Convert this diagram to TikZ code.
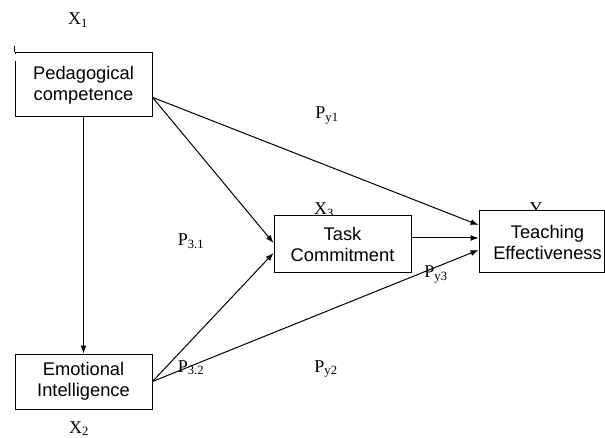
\documentclass[tikz,border=0pt]{standalone}
\usepackage{fontspec}
\setmainfont{Liberation Serif}
\newfontfamily\boxfont{Liberation Sans}
\usetikzlibrary{calc, arrows.meta}

\begin{document}
\begin{tikzpicture}[x=1pt, y=-1pt,
    box/.style={draw, fill=white, line width=1pt, align=center, inner sep=0pt,
      font=\boxfont\fontsize{18.3}{21}\selectfont},
    lbl/.style={anchor=base, inner sep=0pt, font=\fontsize{18}{21}\selectfont},
    arr/.style={line width=1pt, -{Latex[length=8pt,width=6pt]}}]
  \useasboundingbox (0,0) rectangle (605,438);
  % labels
  \node[lbl] (lX1) at (78,25) {X\textsubscript{1}};
  \node[lbl] (lX2) at (79,433) {X\textsubscript{2}};
  \node[lbl] (lX3) at (324,215) {X\textsubscript{3}};
  \node[lbl] (lY) at (536,215) {Y};
  \node[lbl] (lPy1) at (327,119) {P\textsubscript{y1}};
  \node[lbl] (lP31) at (191,246) {P\textsubscript{3.1}};
  \node[lbl] (lPy3) at (436,278) {P\textsubscript{y3}};
  \node[lbl] (lP32) at (191,372) {P\textsubscript{3.2}};
  \node[lbl] (lPy2) at (326,372) {P\textsubscript{y2}};
  % variables
  \node[box, minimum width=137pt, minimum height=64pt] (PC) at (83.5,85) {Pedagogical\\competence};
  \node[box, minimum width=137pt, minimum height=55pt] (EI) at (83.5,381.5) {Emotional\\Intelligence};
  \node[box, minimum width=137pt, minimum height=57pt] (TC) at (342.5,244.5) {Task\\Commitment};
  \node[box, minimum width=125pt, minimum height=62pt] (TE) at (541.5,242)
    {\hspace*{12pt}Teaching\\\hspace*{12pt}Effectiveness};
  \draw[white, line width=2pt] ($(PC.north west)+(0,1.5)$) -- ++(0,7.5);
  \draw[line width=1pt] (PC.north west) -- ++(0,-6);
  % paths
  \coordinate (PCr) at ($(PC.north east)!0.69!(PC.south east)$);
  \draw[arr] (PC.south) -- (EI.north);
  \draw[arr] (PCr) -- ($(TC.west)+(0,-1.5)$);
  \draw[arr] (PCr) -- ($(TE.west)+(0,-17)$);
  \draw[arr] ($(TC.east)+(0,-6.5)$) -- ($(TE.west)+(0,-4)$);
  \draw[arr] (EI.east) -- ($(TC.west)+(0,8.5)$);
  \draw[arr] (EI.east) -- ($(TE.west)+(0,8)$);
\end{tikzpicture}
\end{document}
